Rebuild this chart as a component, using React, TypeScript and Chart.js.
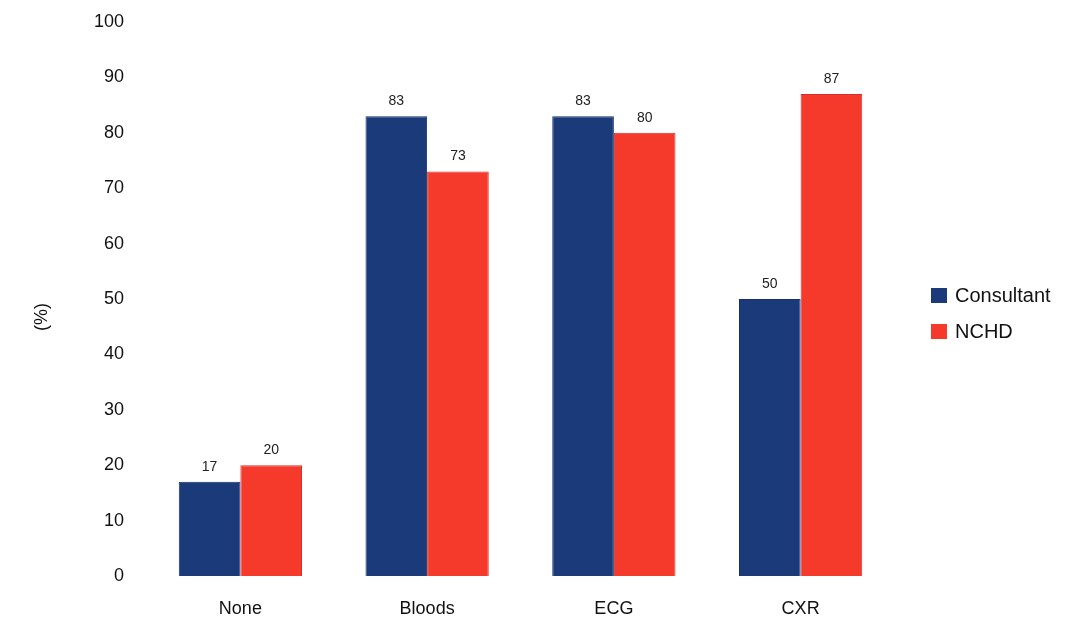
import React, { useEffect, useRef } from "react";
import { Chart, registerables } from "chart.js";

Chart.register(...registerables);

const categories = ["None", "Bloods", "ECG", "CXR"];
const consultantValues = [17, 83, 83, 50];
const nchdValues = [20, 73, 80, 87];
const seriesNames = ["Consultant", "NCHD"];
const yTitle = "(%)";

const FONT = "'Liberation Sans', Arial, sans-serif";

const valueLabels = {
  id: "valueLabels",
  afterDatasetsDraw(chart: any) {
    const ctx = chart.ctx;
    ctx.save();
    ctx.font = `14px ${FONT}`;
    ctx.fillStyle = "#222";
    ctx.textAlign = "center";
    ctx.textBaseline = "bottom";
    chart.data.datasets.forEach((ds: any, i: number) => {
      const meta = chart.getDatasetMeta(i);
      meta.data.forEach((bar: any, j: number) => {
        ctx.fillText(String(ds.data[j]), bar.x, bar.y - 8);
      });
    });
    ctx.restore();
  },
};

const sideLegend = {
  id: "sideLegend",
  afterDraw(chart: any) {
    const ctx = chart.ctx;
    ctx.save();
    ctx.font = `20px ${FONT}`;
    ctx.textBaseline = "middle";
    ctx.textAlign = "left";
    chart.data.datasets.forEach((ds: any, i: number) => {
      const cy = 296 + i * 36;
      ctx.fillStyle = ds.backgroundColor;
      ctx.fillRect(931, cy - 8, 16, 15);
      ctx.fillStyle = "#111";
      ctx.fillText(ds.label, 955, cy);
    });
    // y-axis title
    ctx.translate(42, 317);
    ctx.rotate(-Math.PI / 2);
    ctx.font = `18px ${FONT}`;
    ctx.textAlign = "center";
    ctx.fillText(yTitle, 0, 0);
    ctx.restore();
  },
};

export default function App() {
  const ref = useRef<HTMLCanvasElement>(null);
  useEffect(() => {
    document.body.style.margin = "0";
    const chart = new Chart(ref.current!, {
      type: "bar",
      data: {
        labels: categories,
        datasets: [
          {
            label: seriesNames[0],
            data: consultantValues,
            backgroundColor: "#1b3a7a",
            borderColor: "#15306a",
            borderWidth: 1,
            categoryPercentage: 0.66,
            barPercentage: 1,
          },
          {
            label: seriesNames[1],
            data: nchdValues,
            backgroundColor: "#f53a2c",
            borderColor: "#d2302a",
            borderWidth: 1,
            categoryPercentage: 0.66,
            barPercentage: 1,
          },
        ],
      },
      options: {
        animation: false,
        responsive: false,
        layout: { padding: { top: 22, right: 174, bottom: 0, left: 0 } },
        plugins: { legend: { display: false }, tooltip: { enabled: false } },
        scales: {
          x: {
            grid: { display: false, drawTicks: false },
            border: { display: false },
            ticks: { font: { size: 18, family: FONT }, color: "#111", padding: 22 },
            afterFit: (s: any) => {
              s.height = 44;
            },
          },
          y: {
            min: 0,
            max: 100,
            grid: { display: false, drawTicks: false },
            border: { display: false },
            ticks: { stepSize: 10, font: { size: 18, family: FONT }, color: "#111", padding: 23 },
            afterFit: (s: any) => {
              s.width = 147;
              s.paddingTop = 11;
              s.paddingBottom = 11;
            },
          },
        },
      },
      plugins: [valueLabels, sideLegend],
    });
    return () => chart.destroy();
  }, []);
  return (
    <div style={{ width: 1068, height: 620, background: "#fff" }}>
      <canvas ref={ref} width={1068} height={620} />
    </div>
  );
}
